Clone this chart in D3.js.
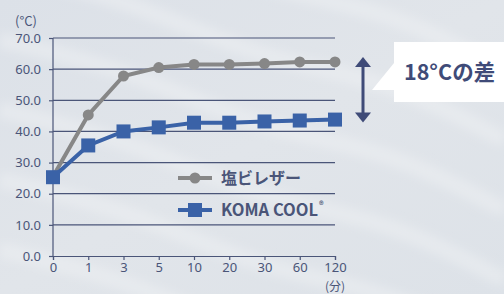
<!DOCTYPE html>
<html>
<head>
<meta charset="utf-8">
<script src="https://cdn.jsdelivr.net/npm/d3@7"></script>
<style>
  html, body { margin: 0; padding: 0; background: #dfe3e9; }
  svg { display: block; font-family: "Noto Sans CJK JP", "Noto Sans", sans-serif; }
</style>
</head>
<body>
<div id="container"></div>
<script>
var width = 504,
    height = 294,
    margin = { left: 53, top: 38, right: 169, bottom: 38 },
    g_width = width - margin.left - margin.right,
    g_height = height - margin.top - margin.bottom;

// data
var minutes = ["0", "1", "3", "5", "10", "20", "30", "60", "120"];
var pvc = [25.5, 45.3, 57.8, 60.5, 61.5, 61.5, 61.8, 62.3, 62.3];
var koma = [25.3, 35.5, 40.0, 41.3, 42.8, 42.8, 43.2, 43.5, 43.8];
var y_ticks = [0, 10, 20, 30, 40, 50, 60, 70];
var series_names = ["塩ビレザー", "KOMA COOL"];

var navy = "#4a5578",
    gray = "#878787",
    blue = "#3a62a7";

var svg = d3.select("#container")
            .append("svg")
            .attr("width", width)
            .attr("height", height);

// background
var defs = svg.append("defs");
var bg = defs.append("linearGradient").attr("id", "bg")
             .attr("x1", 0).attr("y1", 0).attr("x2", 1).attr("y2", 1);
bg.append("stop").attr("offset", "0%").attr("stop-color", "#dce1e8");
bg.append("stop").attr("offset", "50%").attr("stop-color", "#e1e5ea");
bg.append("stop").attr("offset", "100%").attr("stop-color", "#dde2e8");
svg.append("rect").attr("width", width).attr("height", height).attr("fill", "url(#bg)");
defs.append("filter").attr("id", "soft")
    .append("feGaussianBlur").attr("stdDeviation", 5);

// soft waves
var wave = d3.line().curve(d3.curveBasis);
[-120, -50, 20, 90, 160, 230, 300].forEach(function(off) {
  svg.append("path")
     .attr("d", wave([[0, off + 20], [130, off + 50], [260, off + 110], [390, off + 130], [504, off + 190]]))
     .attr("fill", "none")
     .attr("stroke", "#f0f2f5")
     .attr("stroke-opacity", 0.45)
     .attr("stroke-width", 16)
     .attr("filter", "url(#soft)");
});

var g = svg.append("g")
           .attr("transform", "translate(" + margin.left + "," + margin.top + ")");

var scale_x = d3.scalePoint()
                .domain(minutes)
                .range([0, g_width]);

var scale_y = d3.scaleLinear()
                .domain([0, 70])
                .range([g_height, 0]);

// gridlines
g.selectAll(".grid")
 .data(y_ticks.slice(1))
 .enter().append("line")
 .attr("x1", 0).attr("x2", g_width)
 .attr("y1", function(d) { return scale_y(d); })
 .attr("y2", function(d) { return scale_y(d); })
 .attr("stroke", navy)
 .attr("stroke-width", 1.2);

// axes
var x_axis = d3.axisBottom(scale_x).tickSize(4).tickPadding(3),
    y_axis = d3.axisLeft(scale_y).tickValues(y_ticks).tickSize(4).tickPadding(8)
               .tickFormat(d3.format(".1f"));

var gx = g.append("g")
          .attr("transform", "translate(0," + g_height + ")")
          .call(x_axis);
var gy = g.append("g").call(y_axis);

[gx, gy].forEach(function(a) {
  a.select(".domain").attr("stroke", navy).attr("stroke-width", 1.2);
  a.selectAll(".tick line").attr("stroke", navy).attr("stroke-width", 1.2);
  a.selectAll(".tick text").attr("fill", navy).style("font-size", "13px")
   .style("font-family", "'Noto Sans', sans-serif");
});
gy.select(".domain").attr("d", "M0," + g_height + "V0");

// units
svg.append("text").attr("x", 26).attr("y", 26).attr("text-anchor", "middle")
   .attr("fill", navy).style("font-size", "13px").text("(°C)");
svg.append("text").attr("x", margin.left + g_width).attr("y", 291).attr("text-anchor", "middle")
   .attr("fill", navy).style("font-size", "12px").text("(分)");

// lines
var line_generator = d3.line()
                       .x(function(d, i) { return scale_x(minutes[i]); })
                       .y(function(d) { return scale_y(d); });

g.append("path").attr("d", line_generator(pvc))
 .attr("fill", "none").attr("stroke", gray).attr("stroke-width", 4);
g.append("path").attr("d", line_generator(koma))
 .attr("fill", "none").attr("stroke", blue).attr("stroke-width", 4);

g.selectAll(".pvc").data(pvc).enter().append("circle")
 .attr("cx", function(d, i) { return scale_x(minutes[i]); })
 .attr("cy", function(d) { return scale_y(d); })
 .attr("r", 5.5).attr("fill", gray);

g.selectAll(".koma").data(koma).enter().append("rect")
 .attr("x", function(d, i) { return scale_x(minutes[i]) - 7; })
 .attr("y", function(d) { return scale_y(d) - 7; })
 .attr("width", 14).attr("height", 14).attr("fill", blue);

// legend
var lg = svg.append("g").attr("transform", "translate(178,178)");
lg.append("line").attr("x1", 0).attr("x2", 34).attr("stroke", gray).attr("stroke-width", 4);
lg.append("circle").attr("cx", 17).attr("r", 5.5).attr("fill", gray);
lg.append("text").attr("x", 43).attr("y", 6).attr("fill", navy)
  .style("font-size", "16px").style("font-weight", "bold").text(series_names[0]);

var lg2 = svg.append("g").attr("transform", "translate(178,210)");
lg2.append("line").attr("x1", 0).attr("x2", 34).attr("stroke", blue).attr("stroke-width", 4);
lg2.append("rect").attr("x", 10).attr("y", -7).attr("width", 14).attr("height", 14).attr("fill", blue);
var t2 = lg2.append("text").attr("x", 43).attr("y", 6).attr("fill", navy)
  .style("font-size", "16.5px").style("font-weight", "bold").text(series_names[1]);
t2.append("tspan").attr("dx", 1).attr("dy", -7).style("font-size", "9px").text("®");

// difference arrow
var ax = 363,
    ay1 = scale_y(pvc[pvc.length - 1]) + margin.top - 5,
    ay2 = scale_y(koma[koma.length - 1]) + margin.top + 3;
svg.append("line").attr("x1", ax).attr("x2", ax).attr("y1", ay1 + 8).attr("y2", ay2 - 8)
   .attr("stroke", "#3f4b78").attr("stroke-width", 3);
svg.append("path").attr("d", "M" + ax + "," + ay1 + "l-8,10h16z").attr("fill", "#3f4b78");
svg.append("path").attr("d", "M" + ax + "," + ay2 + "l-8,-10h16z").attr("fill", "#3f4b78");

// bubble
svg.append("path")
   .attr("d", "M394,42H504V102H394V90H372L394,63Z")
   .attr("fill", "#ffffff");
svg.append("text").attr("x", 404).attr("y", 80).attr("fill", "#3f4b78")
   .style("font-size", "21.5px").style("font-weight", "bold").text("18°Cの差");
</script>
</body>
</html>
